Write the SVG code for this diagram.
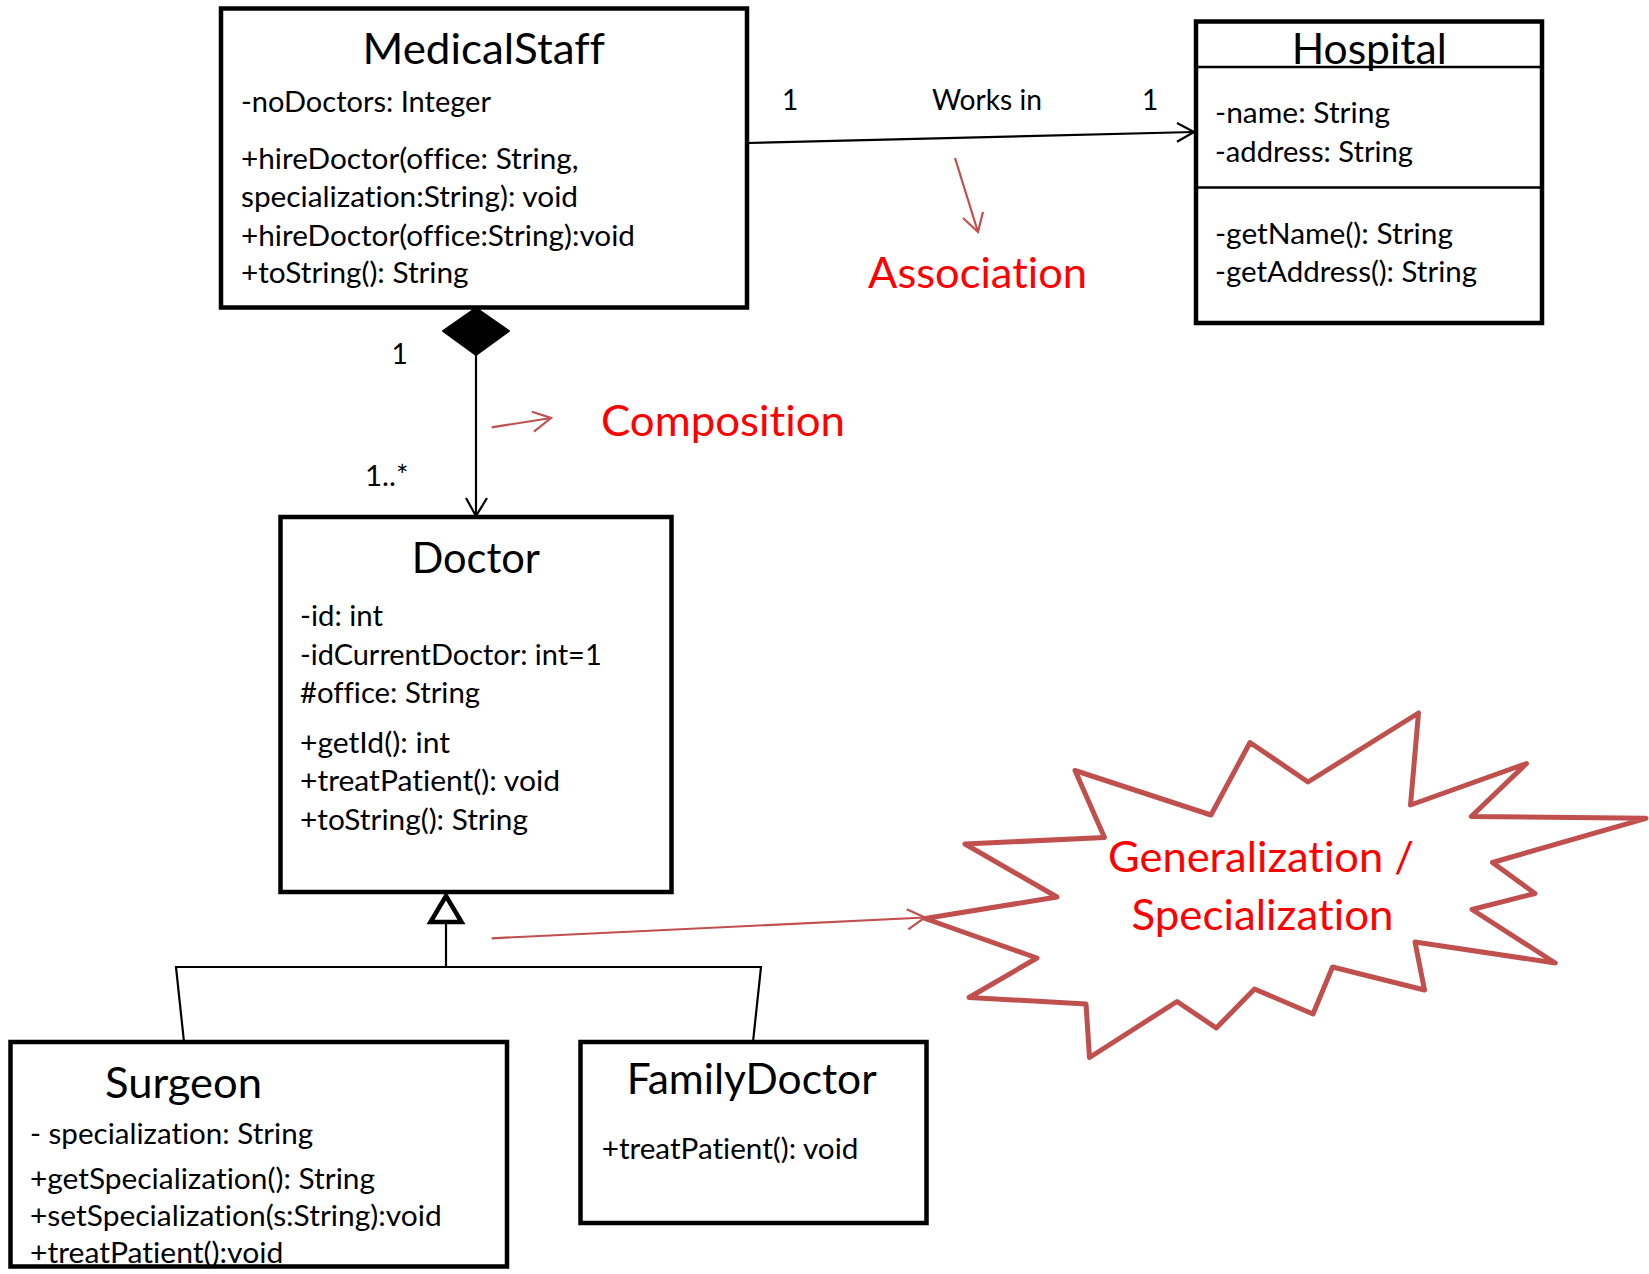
<svg xmlns="http://www.w3.org/2000/svg" width="1649" height="1274" viewBox="0 0 1649 1274">
<style>
.box{fill:#fff;stroke:#000;stroke-width:4.5}
.div{stroke:#000;stroke-width:2.5}
.ln{fill:none;stroke:#000;stroke-width:2.2}
.red{fill:none;stroke:#C0504D;stroke-width:2.2}
text{font-variant-ligatures:none;font-feature-settings:"liga" 0,"dlig" 0}
.t{font-family:Lato,"Liberation Sans",sans-serif;fill:#000}
.title{font-size:42.5px}
.body{font-size:29.5px}
.lab{font-size:28px}
.rt{font-family:Lato,"Liberation Sans",sans-serif;fill:#FF0000;font-size:42.5px}
</style>
<rect width="1649" height="1274" fill="#fff"/>
<g id="connectors">
  <line class="ln" x1="747" y1="143" x2="1194" y2="132"/>
  <polyline class="ln" points="1177,123 1194,132 1177,141.7"/>
  <line class="ln" x1="476" y1="352" x2="476" y2="516"/>
  <polyline class="ln" points="466,498 476,516 487,498"/>
  <polygon points="476,308 509,331 476,355 443,331" fill="#000" stroke="#000" stroke-width="2" stroke-linejoin="round"/>
  <line class="ln" x1="446" y1="922" x2="446" y2="967"/>
  <polyline class="ln" points="184,1042 176,967 761,967 753,1042"/>
  <polygon points="446,896 430.5,922 461.5,922" fill="#fff" stroke="#000" stroke-width="4.5" stroke-linejoin="miter"/>
  <text class="t lab" x="782" y="110">1</text>
  <text class="t lab" x="932" y="110" textLength="110" lengthAdjust="spacingAndGlyphs">Works in</text>
  <text class="t lab" x="1142" y="110">1</text>
  <text class="t lab" x="391.5" y="364">1</text>
  <text class="t lab" x="365" y="486" textLength="43.5" lengthAdjust="spacingAndGlyphs">1..*</text>
</g>
<g id="annotations">
  <line class="red" x1="955" y1="158" x2="978" y2="232"/>
  <polyline class="red" points="963,218 978,232 983,212"/>
  <text class="rt" x="868" y="288" textLength="219" lengthAdjust="spacingAndGlyphs">Association</text>
  <line class="red" x1="491.7" y1="427.3" x2="551" y2="418"/>
  <polyline class="red" points="532,411.7 551,418 534,431.7"/>
  <text class="rt" x="601" y="436" textLength="244" lengthAdjust="spacingAndGlyphs">Composition</text>
  <polygon id="burst" points="1075,770.5 1211,815 1250,742.5 1308,782 1418.5,713 1410.5,805 1526.5,763.5 1471.3,816.5 1646,818.3 1492.5,862.5 1535,893.5 1472,909.5 1555.3,963 1415,942 1424.5,990 1332.5,967 1313,1014 1254.5,989 1216.3,1028 1177,1001.5 1089.5,1057.5 1086,1004 969,997.5 1037,958 925,918.5 1057,897 965,844 1104.5,837.5" fill="#fff" stroke="#C0504D" stroke-width="5" stroke-linejoin="round"/>
  <line class="red" x1="491.7" y1="938.3" x2="925" y2="917.5"/>
  <polyline class="red" points="906.7,909.3 925,917.5 908.3,929.3"/>
  <text class="rt" x="1108" y="872" textLength="306" lengthAdjust="spacingAndGlyphs">Generalization /</text>
  <text class="rt" x="1131.5" y="930" textLength="262" lengthAdjust="spacingAndGlyphs">Specialization</text>
</g>
<g id="MedicalStaff">
  <rect class="box" x="221" y="8.5" width="526" height="299"/>
  <text class="t title" x="362.5" y="64" textLength="242.5" lengthAdjust="spacingAndGlyphs">MedicalStaff</text>
  <text class="t body" x="241" y="111.5" textLength="250" lengthAdjust="spacingAndGlyphs">-noDoctors: Integer</text>
  <text class="t body" x="241" y="169" textLength="337.6" lengthAdjust="spacingAndGlyphs">+hireDoctor(office: String,</text>
  <text class="t body" x="241" y="207" textLength="337" lengthAdjust="spacingAndGlyphs">specialization:String): void</text>
  <text class="t body" x="241" y="246" textLength="394" lengthAdjust="spacingAndGlyphs">+hireDoctor(office:String):void</text>
  <text class="t body" x="241" y="283" textLength="227.6" lengthAdjust="spacingAndGlyphs">+toString(): String</text>
</g>
<g id="Hospital">
  <rect class="box" x="1196" y="21.5" width="346" height="301.5"/>
  <line class="div" x1="1196" y1="67" x2="1542" y2="67"/>
  <line class="div" x1="1196" y1="187.5" x2="1542" y2="187.5"/>
  <text class="t title" x="1291.7" y="64" textLength="155" lengthAdjust="spacingAndGlyphs">Hospital</text>
  <text class="t body" x="1215" y="123" textLength="175" lengthAdjust="spacingAndGlyphs">-name: String</text>
  <text class="t body" x="1215" y="161.5" textLength="198" lengthAdjust="spacingAndGlyphs">-address: String</text>
  <text class="t body" x="1215" y="243.5" textLength="238" lengthAdjust="spacingAndGlyphs">-getName(): String</text>
  <text class="t body" x="1215" y="282" textLength="262" lengthAdjust="spacingAndGlyphs">-getAddress(): String</text>
</g>
<g id="Doctor">
  <rect class="box" x="280.5" y="517" width="391" height="375"/>
  <text class="t title" x="411.7" y="572.5" textLength="128.3" lengthAdjust="spacingAndGlyphs">Doctor</text>
  <text class="t body" x="300" y="626" textLength="83" lengthAdjust="spacingAndGlyphs">-id: int</text>
  <text class="t body" x="300" y="664.5" textLength="301.7" lengthAdjust="spacingAndGlyphs">-idCurrentDoctor: int=1</text>
  <text class="t body" x="300" y="703" textLength="180" lengthAdjust="spacingAndGlyphs">#office: String</text>
  <text class="t body" x="300" y="753" textLength="150" lengthAdjust="spacingAndGlyphs">+getId(): int</text>
  <text class="t body" x="300" y="790.5" textLength="260" lengthAdjust="spacingAndGlyphs">+treatPatient(): void</text>
  <text class="t body" x="300" y="829.5" textLength="228" lengthAdjust="spacingAndGlyphs">+toString(): String</text>
</g>
<g id="Surgeon">
  <rect class="box" x="10.5" y="1042" width="496.5" height="224.5"/>
  <text class="t title" x="105" y="1097.5" textLength="157" lengthAdjust="spacingAndGlyphs">Surgeon</text>
  <text class="t body" x="30" y="1144" textLength="283" lengthAdjust="spacingAndGlyphs">- specialization: String</text>
  <text class="t body" x="30" y="1189" textLength="345" lengthAdjust="spacingAndGlyphs">+getSpecialization(): String</text>
  <text class="t body" x="30" y="1226" textLength="411.7" lengthAdjust="spacingAndGlyphs">+setSpecialization(s:String):void</text>
  <text class="t body" x="30" y="1262.5" textLength="253.3" lengthAdjust="spacingAndGlyphs">+treatPatient():void</text>
</g>
<g id="FamilyDoctor">
  <rect class="box" x="580.5" y="1042" width="346" height="181"/>
  <text class="t title" x="626.7" y="1094" textLength="250" lengthAdjust="spacingAndGlyphs">FamilyDoctor</text>
  <text class="t body" x="601.7" y="1159" textLength="256.7" lengthAdjust="spacingAndGlyphs">+treatPatient(): void</text>
</g>
</svg>
